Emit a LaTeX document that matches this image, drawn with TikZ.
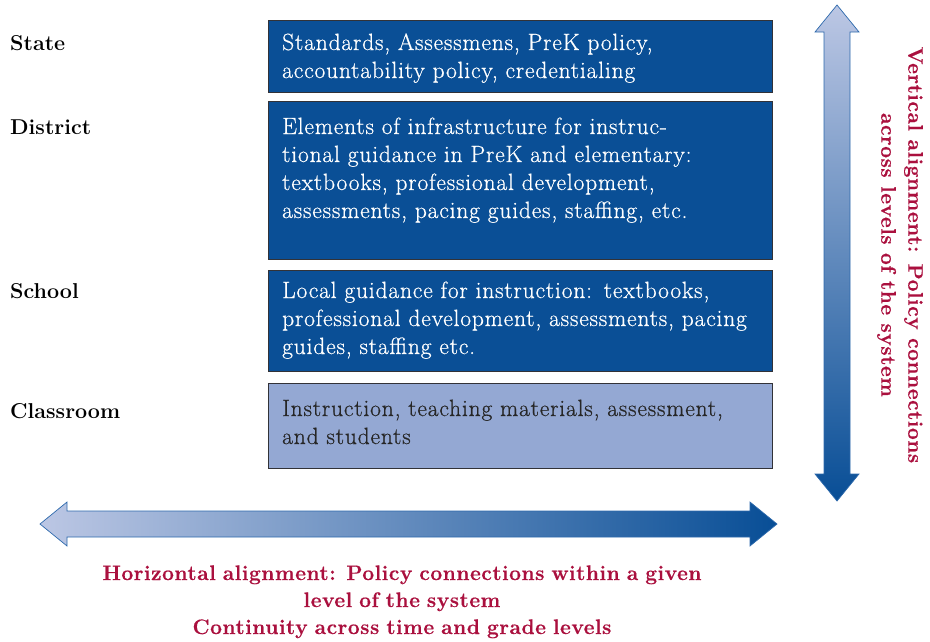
\documentclass[tikz,border=0pt]{standalone}
\usepackage{fontspec}
\newfontfamily\boxfont{Latin Modern Roman}[LetterSpace=3.5,FakeBold=0.6]
\newfontfamily\capfont{Latin Modern Roman}[LetterSpace=2.5,BoldFeatures={FakeBold=0.5}]
\definecolor{boxblue}{RGB}{10,79,150}
\definecolor{lightbox}{RGB}{148,168,211}
\definecolor{crimson}{RGB}{170,16,62}
\definecolor{arrlight}{RGB}{188,199,228}
\definecolor{arrdark}{RGB}{8,78,150}
\definecolor{arredge}{RGB}{45,105,172}
\definecolor{boxedge}{RGB}{50,50,55}
\tikzset{
  levelbox/.style={draw=boxedge, line width=0.8pt, fill=boxblue, anchor=north west, inner sep=0pt, outer sep=0pt},
  boxtext/.style={anchor=base west, inner sep=0pt, text width=490pt, align=left, font=\boxfont\fontsize{23.5}{28}\selectfont, text=white},
  levellabel/.style={anchor=base west, inner sep=0pt, font=\fontsize{21.5}{26}\selectfont\bfseries},
  captext/.style={inner sep=0pt, align=center, text=crimson, font=\capfont\fontsize{21}{27}\selectfont\bfseries},
  bigarrow/.style={draw=arredge, line width=0.7pt, line join=miter}
}
\begin{document}
\begin{tikzpicture}[x=1pt,y=-1pt]
\useasboundingbox (0,0) rectangle (930,641);
% boxes
\node[levelbox, minimum width=504pt, minimum height=72pt] (state) at (268,20) {};
\node[levelbox, minimum width=504pt, minimum height=158pt] (district) at (268,101) {};
\node[levelbox, minimum width=504pt, minimum height=101pt] (school) at (268,270) {};
\node[levelbox, fill=lightbox, minimum width=504pt, minimum height=85pt] (classroom) at (268,383) {};
% box texts
\node[boxtext] (tstate) at (282,50) {Standards, Assessmens, PreK policy,\\accountability policy, credentialing};
\node[boxtext] (tdistrict) at (282,134) {Elements of infrastructure for instruc-\\tional guidance in PreK and elementary:\\textbooks, professional development,\\assessments, pacing guides, staffing, etc.};
\node[boxtext] (tschool) at (282,298) {Local guidance for instruction: textbooks,\\professional development, assessments, pacing\\guides, staffing etc.};
\node[boxtext, text=black!85] (tclassroom) at (282,416) {Instruction, teaching materials, assessment,\\and students};
% level labels
\node[levellabel] (lstate) at (10,50) {State};
\node[levellabel] (ldistrict) at (10,134) {District};
\node[levellabel] (lschool) at (10,298) {School};
\node[levellabel] (lclassroom) at (10,418) {Classroom};
% vertical double arrow
\path[bigarrow, top color=arrlight, bottom color=arrdark]
  (837,5) -- (859,32) -- (850,32) -- (850,474) -- (859,474) -- (837,501)
  -- (815,474) -- (824,474) -- (824,32) -- (815,32) -- cycle;
% horizontal double arrow
\path[bigarrow, left color=arrlight, right color=arrdark]
  (40,524) -- (67,502) -- (67,511) -- (750,511) -- (750,502) -- (777,524)
  -- (750,546) -- (750,537) -- (67,537) -- (67,546) -- cycle;
% captions
\node[captext, anchor=base, text width=760pt] (hcap) at (402,580) {Horizontal alignment: Policy connections within a given\\level of the system\\Continuity across time and grade levels};
\node[captext, rotate=-90] (vcap) at (900,255) {Vertical alignment: Policy connections\\across levels of the system};
\end{tikzpicture}
\end{document}
